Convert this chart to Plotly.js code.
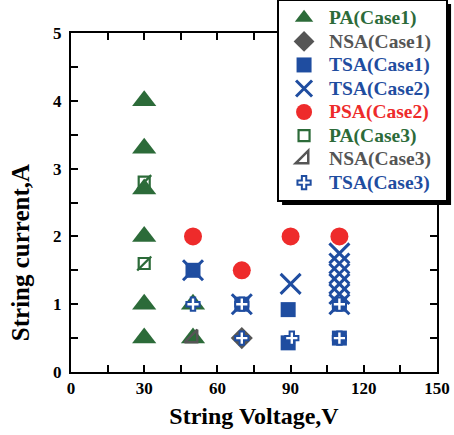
<!DOCTYPE html>
<html>
<head>
<meta charset="utf-8">
<script src="https://cdn.plot.ly/plotly-3.0.1.min.js"></script>
<style>html,body{margin:0;padding:0;background:#fff;}#chart{width:454px;height:435px;}</style>
</head>
<body>
<div id="chart"></div>
<script>
// Data
const paCase1X = [30, 30, 30, 30, 30, 30, 50, 50];
const paCase1Y = [4.0, 3.3, 2.7, 2.0, 1.0, 0.5, 1.0, 0.5];
const nsaCase1X = [70];
const nsaCase1Y = [0.5];
const tsaCase1X = [50, 70, 89, 89, 110, 110];
const tsaCase1Y = [1.5, 1.0, 0.92, 0.43, 1.0, 0.5];
const tsaCase2X = [50, 70, 90, 110, 110, 110, 110, 110, 110];
const tsaCase2Y = [1.5, 1.0, 1.3, 1.0, 1.15, 1.3, 1.45, 1.6, 1.75];
const psaCase2X = [50, 70, 90, 110];
const psaCase2Y = [2.0, 1.5, 2.0, 2.0];
const paCase3X = [30, 30];
const paCase3Y = [2.8, 1.6];
const nsaCase3X = [50];
const nsaCase3Y = [0.5];
const tsaCase3X = [50, 70, 70, 90.5, 110, 110];
const tsaCase3Y = [1.0, 1.0, 0.5, 0.5, 1.0, 0.5];
const xTickVals = [0, 30, 60, 90, 120, 150];
const yTickVals = [0, 1, 2, 3, 4, 5];

const GREEN = '#2c6b39', GRAY = '#555555', BLUE = '#1f4da0', RED = '#ee2b2b';
const PAD = '\u00a0\u00a0';
const lbl = (t, c) => '<span style="color:' + c + ';font-size:19.5px">' + t + PAD + '</span>';

const traces = [
  {x: paCase1X, y: paCase1Y, name: lbl('PA(Case1)', GREEN), mode: 'markers',
   marker: {symbol: 'triangle-up', size: 21, color: GREEN, line: {width: 0}}},
  {x: nsaCase1X, y: nsaCase1Y, name: lbl('NSA(Case1)', GRAY), mode: 'markers',
   marker: {symbol: 'diamond', size: 17, color: GRAY, line: {width: 0}}},
  {x: tsaCase1X, y: tsaCase1Y, name: lbl('TSA(Case1)', BLUE), mode: 'markers',
   marker: {symbol: 'square', size: 15, color: BLUE, line: {width: 0}}},
  {x: tsaCase2X, y: tsaCase2Y, name: lbl('TSA(Case2)', BLUE), mode: 'markers',
   marker: {symbol: 'x-thin-open', size: 20, color: BLUE, line: {width: 3, color: BLUE}}},
  {x: psaCase2X, y: psaCase2Y, name: lbl('PSA(Case2)', RED), mode: 'markers',
   marker: {symbol: 'circle', size: 18, color: RED, line: {width: 0}}},
  {x: paCase3X, y: paCase3Y, name: lbl('PA(Case3)', GREEN), mode: 'markers',
   marker: {symbol: 'square-open', size: 11, color: GREEN, line: {width: 2.2, color: GREEN}}},
  {x: paCase3X, y: paCase3Y, name: 'PA(Case3) diag', mode: 'markers', showlegend: false,
   marker: {symbol: 'line-ne-open', size: 14, color: GREEN, line: {width: 2.4, color: GREEN}}},
  {x: nsaCase3X, y: nsaCase3Y, name: lbl('NSA(Case3)', GRAY), mode: 'markers',
   marker: {symbol: 'triangle-se-open', size: 14, color: GRAY, line: {width: 2.5, color: GRAY}}},
  {x: tsaCase3X, y: tsaCase3Y, name: lbl('TSA(Case3)', BLUE), mode: 'markers',
   marker: {symbol: 'cross', size: 11, color: '#ffffff', line: {width: 2, color: BLUE}}}
];

const axisFont = {family: 'Liberation Serif', size: 17, color: '#000', weight: 'bold'};
const layout = {
  width: 454, height: 435,
  margin: {l: 71, r: 17, t: 33, b: 63, autoexpand: false},
  paper_bgcolor: '#fff', plot_bgcolor: '#fff',
  font: {family: 'Liberation Serif', color: '#000'},
  showlegend: true,
  legend: {
    x: 0.563, xanchor: 'left', y: 1.1, yanchor: 'top',
    bgcolor: '#fff', bordercolor: '#000', borderwidth: 2,
    font: {family: 'Liberation Serif', size: 15.8, weight: 'bold'},
    tracegroupgap: 0, itemwidth: 40
  },
  xaxis: {
    range: [0, 150], tickmode: 'array', tickvals: xTickVals,
    minor: {dtick: 15, ticks: 'inside', ticklen: 7, tickwidth: 2, tickcolor: '#000'},
    ticks: 'inside', ticklen: 7, tickwidth: 2, tickcolor: '#000',
    showline: true, linewidth: 2, linecolor: '#000', mirror: 'ticks',
    showgrid: false, zeroline: false, tickfont: axisFont,
    title: {text: 'String Voltage,V', font: {family: 'Liberation Serif', size: 24, weight: 'bold', color: '#000'}, standoff: 10}
  },
  yaxis: {
    range: [0, 5], tickmode: 'array', tickvals: yTickVals,
    minor: {dtick: 0.5, ticks: 'inside', ticklen: 7, tickwidth: 2, tickcolor: '#000'},
    ticks: 'inside', ticklen: 7, tickwidth: 2, tickcolor: '#000',
    showline: true, linewidth: 2, linecolor: '#000', mirror: 'ticks',
    showgrid: false, zeroline: false, tickfont: axisFont, ticklabelstandoff: 4
  },
  annotations: [{
    text: 'String current,A', textangle: -90, xref: 'paper', yref: 'paper',
    x: -0.138, y: 0.352, xanchor: 'center', yanchor: 'middle', showarrow: false,
    font: {family: 'Liberation Serif', size: 25, weight: 'bold', color: '#000'}
  }]
};

const gd = document.getElementById('chart');
Plotly.newPlot(gd, traces, layout, {displayModeBar: false, staticPlot: true});
try {
  const bg = gd.querySelector('g.legend rect.bg');
  const r = bg.getBoundingClientRect();
  const c = gd.getBoundingClientRect();
  const fs = gd._fullLayout._size;
  const toX = px => (px - c.left - fs.l) / fs.w;
  const toY = py => 1 - (py - c.top - fs.t) / fs.h;
  const off = 4;
  Plotly.relayout(gd, {shapes: [{
    type: 'rect', xref: 'paper', yref: 'paper', layer: 'above',
    x0: toX(r.left + off), x1: toX(r.right + off),
    y0: toY(r.bottom + off), y1: toY(r.top + off),
    fillcolor: '#000', line: {width: 0}
  }]});
} catch (e) { console.log(e); }
</script>
</body>
</html>
